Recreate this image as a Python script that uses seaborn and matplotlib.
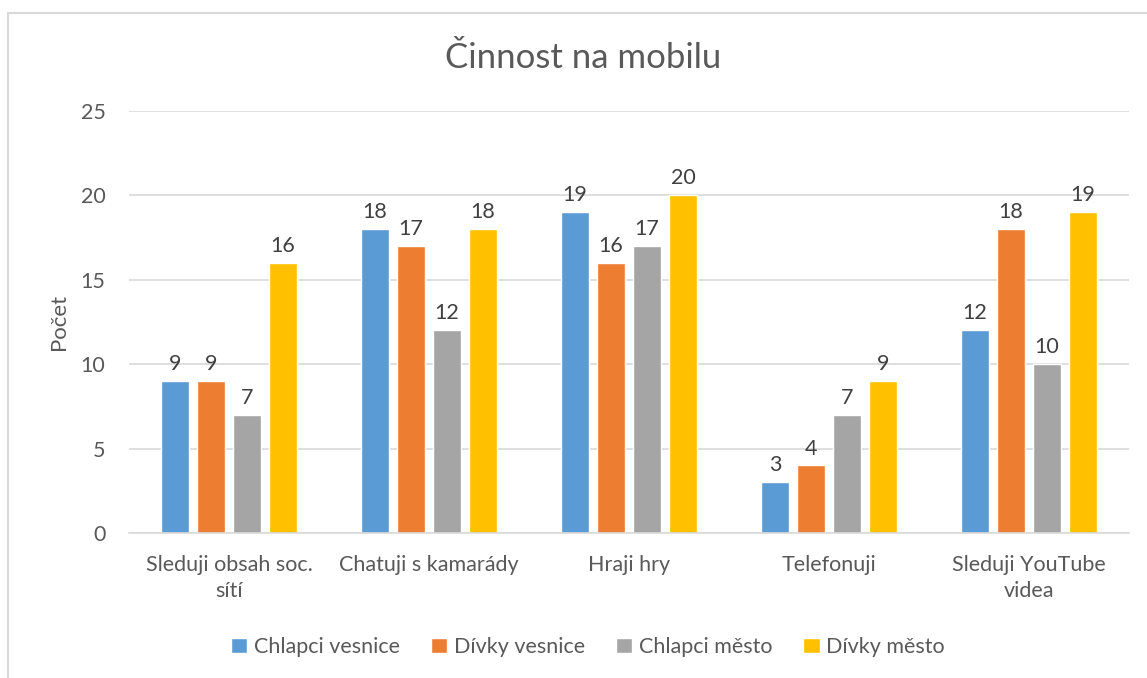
import matplotlib
matplotlib.use("Agg")
import matplotlib.pyplot as plt
import seaborn as sns
import pandas as pd
from matplotlib.patches import Rectangle

categories = ["Sleduji obsah soc.\nsítí", "Chatuji s kamarády", "Hraji hry", "Telefonuji", "Sleduji YouTube\nvidea"]
series_names = ["Chlapci vesnice", "Dívky vesnice", "Chlapci město", "Dívky město"]
chlapci_vesnice = [9, 18, 19, 3, 12]
divky_vesnice = [9, 17, 16, 4, 18]
chlapci_mesto = [7, 12, 17, 7, 10]
divky_mesto = [16, 18, 20, 9, 19]
colors = ["#5B9BD5", "#ED7D31", "#A5A5A5", "#FFC000"]
yticks = [0, 5, 10, 15, 20, 25]

rows = []
for name, vals in zip(series_names, [chlapci_vesnice, divky_vesnice, chlapci_mesto, divky_mesto]):
    for c, v in zip(categories, vals):
        rows.append({"cat": c, "series": name, "value": v})
df = pd.DataFrame(rows)

sns.set_theme(style="white")
plt.rcParams['font.family'] = ['Lato', 'DejaVu Sans']
text_color = "#595959"
fs = 15.5

fig = plt.figure(figsize=(11.47, 6.78), dpi=100)
ax = fig.add_axes([129/1147, (678-533)/678, 1000/1147, (533-111)/678])

sns.barplot(data=df, x="cat", y="value", hue="series", order=categories,
            hue_order=series_names, palette=colors, width=0.72, gap=0.2,
            saturation=1, ax=ax, legend=True, errorbar=None)

for cont in ax.containers:
    ax.bar_label(cont, fmt="%d", padding=5, fontsize=fs, color="#404040")

ax.set_xlim(-0.5, 4.5)
ax.set_ylim(0, 25)
ax.set_yticks(yticks)
ax.yaxis.grid(True, color="#D9D9D9", linewidth=1.2)
ax.set_axisbelow(True)
for s in ["top", "right", "left"]:
    ax.spines[s].set_visible(False)
ax.spines["bottom"].set_color("#D9D9D9")
ax.spines["bottom"].set_linewidth(1.2)
ax.tick_params(axis="both", length=0, labelsize=fs, labelcolor=text_color)
ax.tick_params(axis="y", pad=17)
ax.tick_params(axis="x", pad=16)
for lbl in ax.get_xticklabels():
    lbl.set_linespacing(1.35)
ax.set_xlabel("")
ax.set_ylabel("Počet", fontsize=fs + 0.5, color=text_color)
ax.yaxis.set_label_coords(-0.06, 0.5)

leg = ax.legend(loc="center", bbox_to_anchor=(588/1147, (678-647)/678),
                bbox_transform=fig.transFigure, ncol=4, frameon=False,
                fontsize=fs, handlelength=0.75, handleheight=0.75,
                handletextpad=0.3, columnspacing=1.45)
for t in leg.get_texts():
    t.set_color(text_color)

fig.text(583/1147, (678-58)/678, "Činnost na mobilu", ha="center", va="center",
         fontsize=25, color=text_color)

fig.patches.append(Rectangle((8/1147, -0.1), 1.2, (678-13)/678 + 0.1,
                             transform=fig.transFigure, fill=False,
                             edgecolor="#D9D9D9", linewidth=1.5))

fig.savefig("out.png", dpi=100)
